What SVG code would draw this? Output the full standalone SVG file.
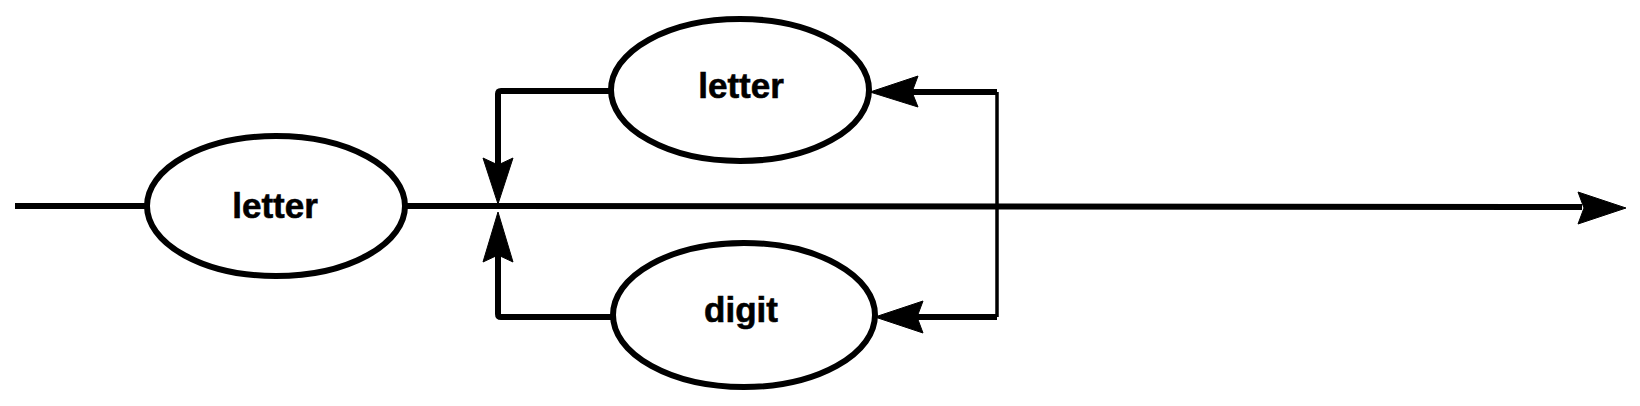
<svg xmlns="http://www.w3.org/2000/svg" width="1640" height="406" viewBox="0 0 1640 406">
<style>
.node ellipse{fill:#fff;stroke:#000;stroke-width:6}
.node text{font-family:"Liberation Sans",Arial,sans-serif;font-weight:bold;font-size:35px;text-anchor:middle;fill:#000;stroke:#000;stroke-width:0.6}
.line{fill:none;stroke:#000;stroke-width:6;stroke-linejoin:round}
.thin{fill:none;stroke:#000;stroke-width:3.5}
.head{fill:#000;stroke:#000;stroke-width:1;stroke-linejoin:round}
</style>
<rect width="1640" height="406" fill="#fff"/>
<g id="connectors">
<path class="line" d="M15,206 L147,206"/>
<path class="line" d="M405,206 L1582,207"/>
<path class="head" d="M1626,208 L1578,192 L1584,208 L1578,224 Z"/>
<path class="line" d="M611,91 L501,91 Q498,91 498,94 L498,166"/>
<path class="head" d="M498,204 L483,158 L498,165 L513,158 Z"/>
<path class="line" d="M613,317 L501,317 Q498,317 498,314 L498,254"/>
<path class="head" d="M498,212 L483,262 L498,255 L513,262 Z"/>
<path class="line" d="M997,92 L910,92"/>
<path class="thin" d="M997,92 L997,317"/>
<path class="head" d="M870,92 L918,76 L912,92 L918,107 Z"/>
<path class="line" d="M997,317 L915,317"/>
<path class="head" d="M875,317 L923,301 L917,317 L923,333 Z"/>
</g>
<g id="node-letter1" class="node">
<ellipse cx="276" cy="206" rx="129" ry="70"/>
<text x="275" y="218">letter</text>
</g>
<g id="node-letter2" class="node">
<ellipse cx="740" cy="90" rx="129" ry="71"/>
<text x="741" y="98">letter</text>
</g>
<g id="node-digit" class="node">
<ellipse cx="744" cy="315" rx="131" ry="72"/>
<text x="741" y="322">digit</text>
</g>
</svg>
